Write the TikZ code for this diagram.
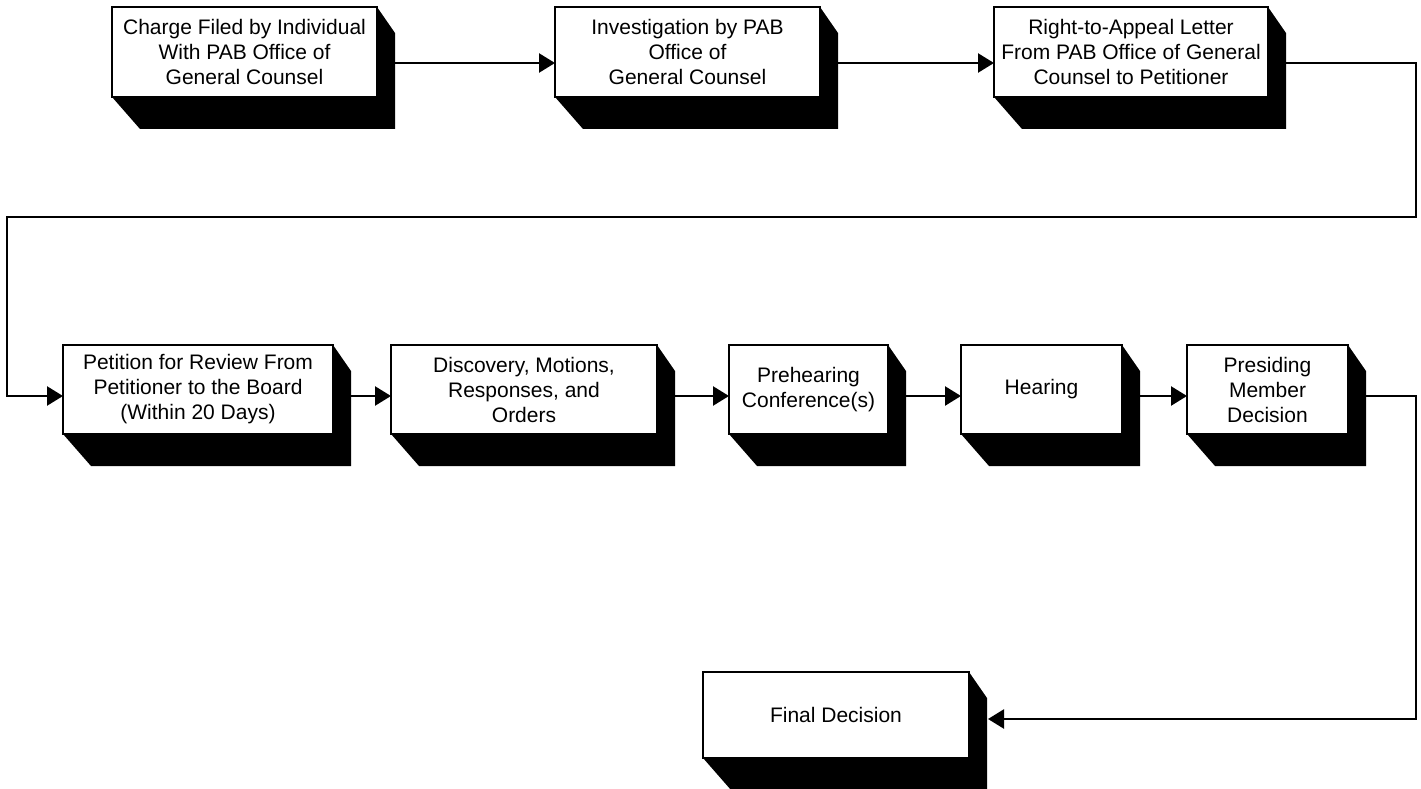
\documentclass[tikz,border=0pt]{standalone}
\usepackage{fontspec}
\setmainfont{Liberation Sans}
\usetikzlibrary{arrows.meta,calc}
\tikzset{
  stepbox/.style={draw, line width=1.6pt, fill=white, rectangle, inner sep=0pt, outer sep=0pt,
    align=center, font=\fontsize{21}{25}\selectfont},
  arr/.style={line width=2.4pt, -{Triangle[length=16pt,width=19pt]}},
  shadowfill/.style={fill=black}
}
\newcommand{\boxshadow}[1]{%
  \fill[shadowfill] (#1.north east) -- ++(18,26) -- ($(#1.south east)+(18,32)$)
    -- ($(#1.south west)+(28,32)$) -- (#1.south west) -- (#1.south east) -- cycle;}
\begin{document}
\begin{tikzpicture}[x=1pt,y=-1pt]
\useasboundingbox (0,0) rectangle (1421,789);
% top row
\node[stepbox, minimum width=265pt, minimum height=90pt] (b1) at (244.5,52)
  {Charge Filed by Individual\\With PAB Office of\\General Counsel};
\node[stepbox, minimum width=265pt, minimum height=90pt] (b2) at (687.5,52)
  {Investigation by PAB\\Office of\\General Counsel};
\node[stepbox, minimum width=274pt, minimum height=90pt] (b3) at (1131,52)
  {Right-to-Appeal Letter\\From PAB Office of General\\Counsel to Petitioner};
% second row
\node[stepbox, minimum width=270pt, minimum height=89pt] (b4) at (198,389.5)
  {Petition for Review From\\Petitioner to the Board\\(Within 20 Days)};
\node[stepbox, minimum width=266pt, minimum height=89pt] (b5) at (524,389.5)
  {Discovery, Motions,\\Responses, and\\Orders};
\node[stepbox, minimum width=159pt, minimum height=89pt] (b6) at (808.5,389.5)
  {Prehearing\\Conference(s)};
\node[stepbox, minimum width=161pt, minimum height=89pt] (b7) at (1041.5,389.5)
  {Hearing};
\node[stepbox, minimum width=161pt, minimum height=89pt] (b8) at (1267.5,389.5)
  {Presiding\\Member\\Decision};
% final
\node[stepbox, minimum width=266pt, minimum height=86pt] (b9) at (836,715)
  {Final Decision};
\foreach \n in {b1,b2,b3,b4,b5,b6,b7,b8,b9} {\boxshadow{\n}}
% routing points
\coordinate (r1) at (1416,217);
\coordinate (l1) at (7,217);
\coordinate (r2) at (1416,560);
% connectors
\draw[arr] ($(b1.east)+(18,11)$) -- ($(b2.west)+(0,11)$);
\draw[arr] ($(b2.east)+(18,11)$) -- ($(b3.west)+(0,11)$);
\draw[arr] ($(b3.east)+(18,11)$) -| (r1) -- (l1) |- ($(b4.west)+(0,6.5)$);
\draw[arr] ($(b4.east)+(18,6.5)$) -- ($(b5.west)+(0,6.5)$);
\draw[arr] ($(b5.east)+(18,6.5)$) -- ($(b6.west)+(0,6.5)$);
\draw[arr] ($(b6.east)+(18,6.5)$) -- ($(b7.west)+(0,6.5)$);
\draw[arr] ($(b7.east)+(18,6.5)$) -- ($(b8.west)+(0,6.5)$);
\draw[arr] ($(b8.east)+(18,6.5)$) -| (r2) |- ($(b9.east)+(19,4)$);
\end{tikzpicture}
\end{document}
